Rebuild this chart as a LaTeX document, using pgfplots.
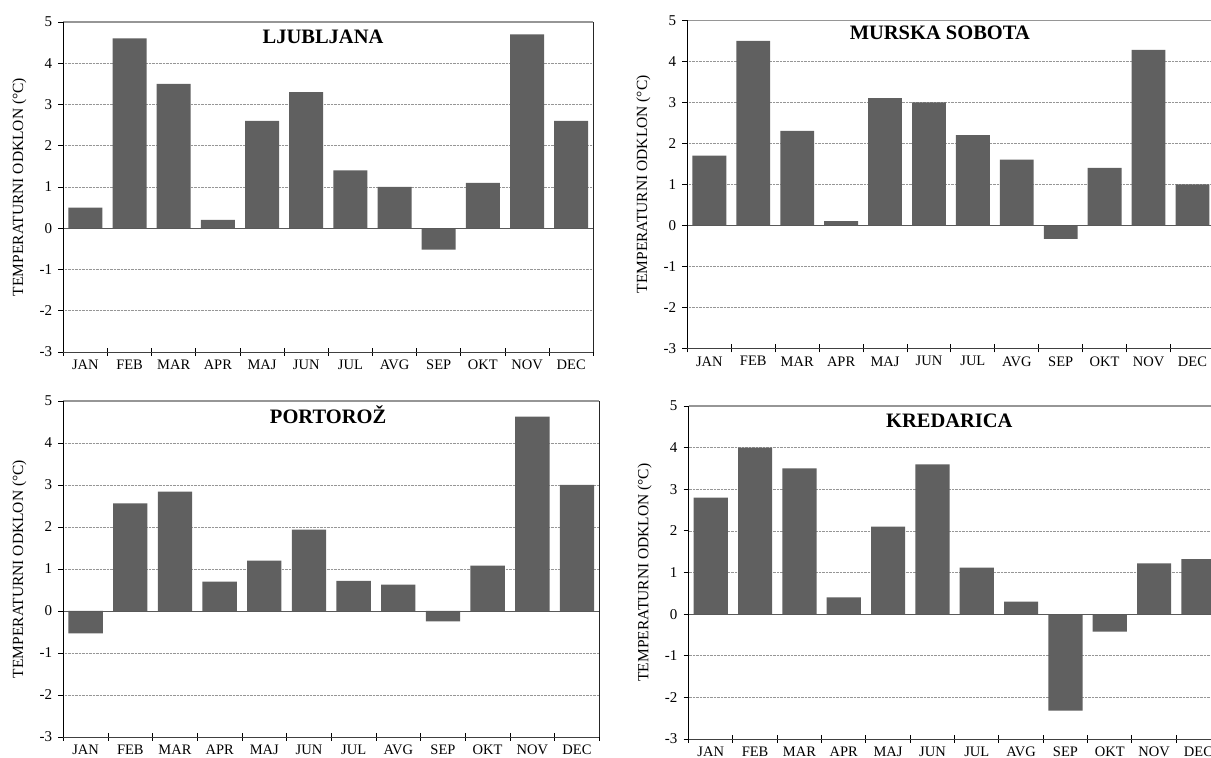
\documentclass[border=0pt]{standalone}
\usepackage{pgfplots}
\pgfplotsset{compat=1.18}
\usepackage{fontspec}
\setmainfont{Liberation Serif}
\definecolor{barc}{RGB}{96,96,96}
\definecolor{gridc}{RGB}{150,150,150}

\pgfplotsset{
  panel/.style={
    scale only axis,
    anchor=south west,
    xmin=0.5, xmax=12.5,
    ymin=-3, ymax=5,
    axis line style={draw=none},
    xtick={1,...,12},
    xticklabels={JAN,FEB,MAR,APR,MAJ,JUN,JUL,AVG,SEP,OKT,NOV,DEC},
    minor xtick={0.5,1.5,...,12.5},
    ytick={-3,...,5},
    yticklabels={-3,-2,-1,0,1,2,3,4,5},
    xtick pos=bottom, ytick pos=left,
    tick align=outside,
    major tick length=5pt,
    minor tick length=8pt,
    every major x tick/.append style={draw=none},
    every minor x tick/.append style={black, line width=0.9pt, yshift=4pt},
    every major y tick/.append style={black, line width=0.9pt},
    ymajorgrids,
    grid style={densely dotted, gridc, line width=0.7pt},
    xticklabel style={font=\fontsize{14.5}{14.5}\selectfont, inner sep=0pt, yshift=-3pt},
    yticklabel style={font=\fontsize{15}{15}\selectfont, inner sep=0pt, xshift=-6pt},
    ylabel={TEMPERATURNI ODKLON (°C)},
    ylabel style={font=\fontsize{15.5}{15.5}\selectfont, at={(rel axis cs:0,0.5)}, anchor=center, yshift=44pt, inner sep=0pt},
    ybar, bar width=0.77,
    clip=false,
  },
  bars/.style={fill=barc, draw=none},
}
\newcommand{\titlenode}[2]{%
  \node[font=\bfseries\fontsize{20.5}{20.5}\selectfont, anchor=center] at (rel axis cs:#1) {#2};
}

\begin{document}
\begin{tikzpicture}
\useasboundingbox (0pt,0pt) rectangle (1211pt,758pt);

% LJUBLJANA
\begin{axis}[panel, at={(63.3pt,406pt)}, width=530pt, height=330pt]
\addplot[bars] coordinates {(1,0.5) (2,4.6) (3,3.5) (4,0.2) (5,2.6) (6,3.3) (7,1.4) (8,1.0) (9,-0.52) (10,1.1) (11,4.7) (12,2.6)};
\draw[black!65, line width=0.9pt] (axis cs:0.5,0) -- (axis cs:12.5,0);
\draw[gridc, line width=1.6pt] (rel axis cs:0,1) -- (rel axis cs:1,1);
\draw[black!75, line width=0.9pt] (rel axis cs:0,0) -- (rel axis cs:1,0);
\draw[black, line width=1.3pt] (rel axis cs:0,0) -- (rel axis cs:0,1);
\draw[black!85, line width=1.6pt] (rel axis cs:1,0) -- (rel axis cs:1,1);
\titlenode{0.49,0.955}{LJUBLJANA}
\end{axis}

% MURSKA SOBOTA
\begin{axis}[panel, at={(687.4pt,409.7pt)}, width=527pt, height=328pt]
\addplot[bars] coordinates {(1,1.7) (2,4.5) (3,2.3) (4,0.1) (5,3.1) (6,3.0) (7,2.2) (8,1.6) (9,-0.33) (10,1.4) (11,4.28) (12,1.0)};
\draw[black!65, line width=0.9pt] (axis cs:0.5,0) -- (axis cs:12.5,0);
\draw[gridc, line width=1.6pt] (rel axis cs:0,1) -- (rel axis cs:1,1);
\draw[black!75, line width=0.9pt] (rel axis cs:0,0) -- (rel axis cs:1,0);
\draw[black, line width=1.3pt] (rel axis cs:0,0) -- (rel axis cs:0,1);
\titlenode{0.479,0.961}{MURSKA SOBOTA}
\end{axis}

% PORTOROZ
\begin{axis}[panel, at={(63.3pt,21pt)}, width=536pt, height=336pt]
\addplot[bars] coordinates {(1,-0.53) (2,2.56) (3,2.84) (4,0.70) (5,1.2) (6,1.94) (7,0.72) (8,0.63) (9,-0.25) (10,1.08) (11,4.63) (12,3.0)};
\draw[black!65, line width=0.9pt] (axis cs:0.5,0) -- (axis cs:12.5,0);
\draw[gridc, line width=1.6pt] (rel axis cs:0,1) -- (rel axis cs:1,1);
\draw[black!75, line width=0.9pt] (rel axis cs:0,0) -- (rel axis cs:1,0);
\draw[black, line width=1.3pt] (rel axis cs:0,0) -- (rel axis cs:0,1);
\draw[black!85, line width=1.6pt] (rel axis cs:1,0) -- (rel axis cs:1,1);
\titlenode{0.494,0.958}{PORTOROŽ}
\end{axis}

% KREDARICA
\begin{axis}[panel, at={(688.6pt,19pt)}, width=532pt, height=333pt]
\addplot[bars] coordinates {(1,2.8) (2,4.0) (3,3.5) (4,0.4) (5,2.1) (6,3.6) (7,1.12) (8,0.3) (9,-2.32) (10,-0.42) (11,1.22) (12,1.32)};
\draw[black!65, line width=0.9pt] (axis cs:0.5,0) -- (axis cs:12.5,0);
\draw[gridc, line width=1.6pt] (rel axis cs:0,1) -- (rel axis cs:1,1);
\draw[black!75, line width=0.9pt] (rel axis cs:0,0) -- (rel axis cs:1,0);
\draw[black, line width=1.3pt] (rel axis cs:0,0) -- (rel axis cs:0,1);
\titlenode{0.49,0.956}{KREDARICA}
\end{axis}
\end{tikzpicture}
\end{document}
